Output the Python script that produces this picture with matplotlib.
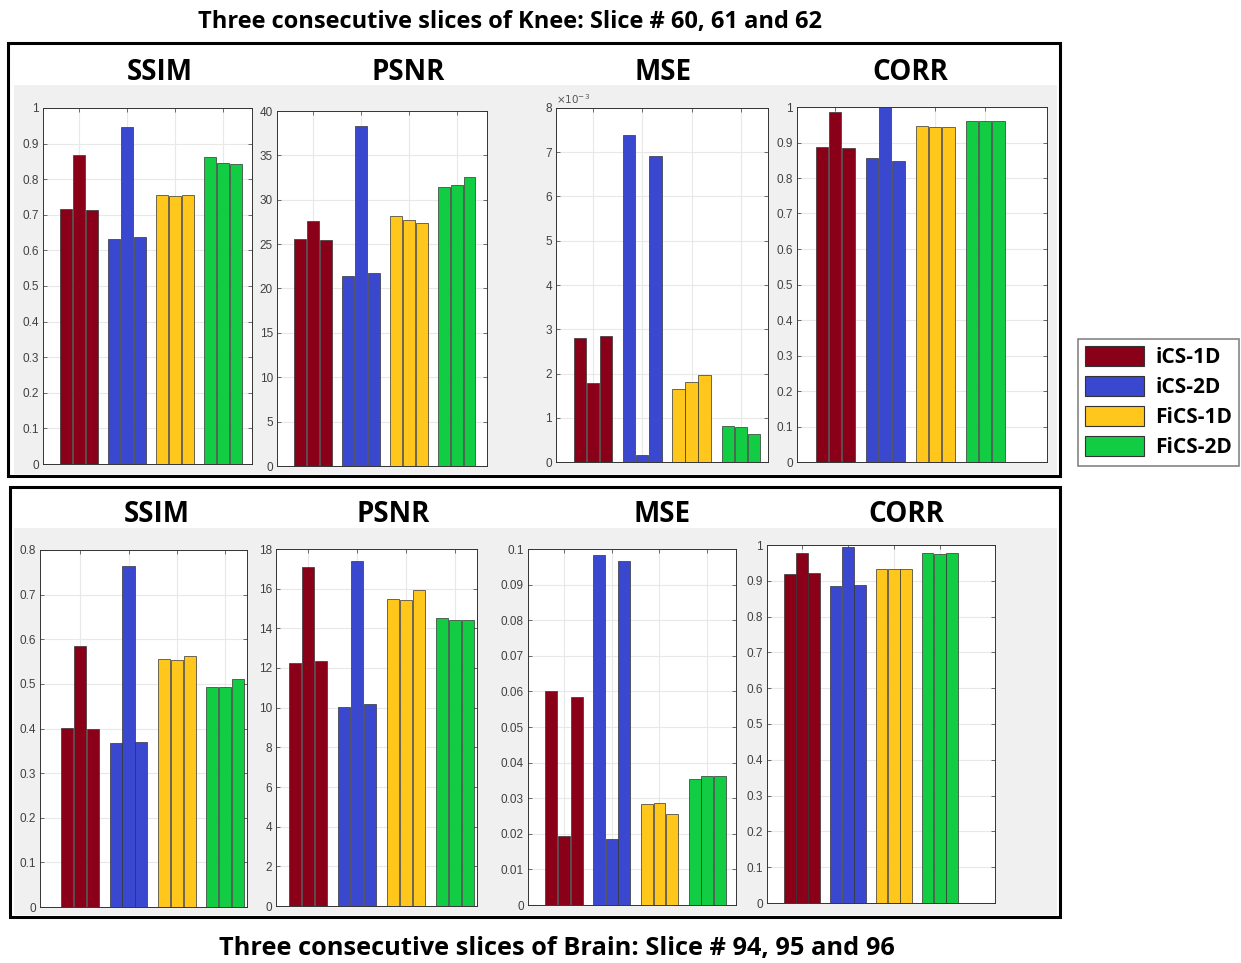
import matplotlib.pyplot as plt
from matplotlib.patches import Rectangle, Patch
from matplotlib.ticker import FuncFormatter
import numpy as np

methods = ["iCS-1D", "iCS-2D", "FiCS-1D", "FiCS-2D"]
colors = ["#8a0018", "#3a47cf", "#ffc61c", "#12cc44"]

# three consecutive slices per method
knee_ssim = [[0.715, 0.868, 0.713], [0.632, 0.948, 0.638], [0.755, 0.752, 0.755], [0.862, 0.845, 0.842]]
knee_psnr = [[25.6, 27.6, 25.5], [21.4, 38.3, 21.8], [28.2, 27.7, 27.4], [31.4, 31.7, 32.6]]
knee_mse = [[2.80e-3, 1.78e-3, 2.85e-3], [7.38e-3, 0.15e-3, 6.92e-3], [1.65e-3, 1.80e-3, 1.97e-3], [0.82e-3, 0.78e-3, 0.63e-3]]
knee_corr = [[0.888, 0.985, 0.885], [0.857, 0.999, 0.848], [0.947, 0.945, 0.945], [0.960, 0.960, 0.960]]

brain_ssim = [[0.402, 0.585, 0.398], [0.368, 0.764, 0.370], [0.555, 0.553, 0.562], [0.492, 0.492, 0.511]]
brain_psnr = [[12.25, 17.1, 12.35], [10.05, 17.4, 10.2], [15.5, 15.45, 15.95], [14.5, 14.4, 14.4]]
brain_mse = [[0.0600, 0.0195, 0.0583], [0.0983, 0.0185, 0.0966], [0.0283, 0.0287, 0.0255], [0.0355, 0.0363, 0.0363]]
brain_corr = [[0.918, 0.977, 0.922], [0.885, 0.995, 0.887], [0.933, 0.933, 0.933], [0.978, 0.975, 0.977]]

W, H = 1241, 963
fig = plt.figure(figsize=(W / 100, H / 100), dpi=100)
fig.patch.set_facecolor("white")


def px_rect(l, t, r, b):
    return [l / W, 1 - b / H, (r - l) / W, (b - t) / H]


# grey panel backgrounds and black frames
for (l, t, r, b) in [(14, 85, 1057, 474), (14, 528, 1057, 915)]:
    fig.patches.append(Rectangle((l / W, 1 - b / H), (r - l) / W, (b - t) / H,
                                 transform=fig.transFigure, facecolor="#f0f0f0", edgecolor="none", zorder=-1))
for (l, t, r, b) in [(8, 43, 1060, 476), (10, 487, 1060, 917)]:
    fig.patches.append(Rectangle((l / W, 1 - b / H), (r - l) / W, (b - t) / H,
                                 transform=fig.transFigure, facecolor="none", edgecolor="black",
                                 linewidth=2.2, zorder=5))

panels = [
    # data, rect(px), xlim, ymax, ystep, title, title x, title y
    (knee_ssim, (43, 108, 252, 464), (0.25, 4.6), 1.0, 0.1, "SSIM", 160, 72),
    (knee_psnr, (277, 111, 487, 466), (0.25, 4.63), 40, 5, "PSNR", 408, 72),
    (knee_mse, (556, 108, 768, 462), (0.25, 4.55), 8e-3, 1e-3, "MSE", 663, 72),
    (knee_corr, (797, 107, 1047, 462), (0.24, 5.24), 1.0, 0.1, "CORR", 910, 72),
    (brain_ssim, (40, 550, 247, 907), (0.17, 4.45), 0.8, 0.1, "SSIM", 157, 514),
    (brain_psnr, (276, 549, 477, 906), (0.35, 4.45), 18, 2, "PSNR", 393, 514),
    (brain_mse, (528, 549, 736, 905), (0.25, 4.6), 0.1, 0.01, "MSE", 662, 514),
    (brain_corr, (767, 545, 995, 903), (0.24, 5.2), 1.0, 0.1, "CORR", 906, 514),
]

groups = np.arange(1, 5)
offsets = [-0.265, 0.0, 0.265]

for i, (data, rect, xl, ymax, ystep, title, tx, ty) in enumerate(panels):
    ax = fig.add_axes(px_rect(*rect))
    ax.set_facecolor("white")
    vals = np.array(data)
    for g in range(4):
        ax.bar(groups[g] + np.array(offsets), vals[g], width=0.25, color=colors[g],
               edgecolor="#333333", linewidth=0.5, zorder=3)
    ax.set_xlim(*xl)
    ax.set_ylim(0, ymax)
    ax.set_xticks(groups)
    ax.set_xticklabels([])
    ax.set_yticks(np.arange(0, ymax + ystep / 2, ystep))
    if i == 2:
        ax.yaxis.set_major_formatter(FuncFormatter(lambda v, p: "%g" % round(v * 1e3, 6)))
        ax.text(0.0, 1.005, r"$\times10^{-3}$", transform=ax.transAxes, fontsize=7.5,
                color="#555555", va="bottom", ha="left")
    else:
        ax.yaxis.set_major_formatter(FuncFormatter(lambda v, p: "%g" % round(v, 6)))
    ax.grid(True, color="#e8e8e8", linewidth=0.8, zorder=0)
    ax.set_axisbelow(True)
    ax.tick_params(direction="in", length=3, width=0.6, colors="#555555",
                   labelsize=8.5, labelcolor="#404040", top=True, right=True, pad=3)
    for s in ax.spines.values():
        s.set_color("#333333")
        s.set_linewidth(0.7)
    for lab in ax.get_yticklabels():
        lab.set_family("Liberation Sans")
    fig.text(tx / W, 1 - ty / H, title, ha="center", va="center", fontsize=20,
             fontweight="bold", family="Open Sans")

fig.text(510 / W, 1 - 22 / H, "Three consecutive slices of Knee: Slice # 60, 61 and 62",
         ha="center", va="center", fontsize=17, fontweight="bold", family="Open Sans")
fig.text(557 / W, 1 - 948 / H, "Three consecutive slices of Brain: Slice # 94, 95 and 96",
         ha="center", va="center", fontsize=18.3, fontweight="bold", family="Open Sans")

handles = [Patch(facecolor=c, edgecolor="#333333", linewidth=0.8) for c in colors]
leg = fig.legend(handles, methods, loc="upper left", bbox_to_anchor=(1078 / W, 1 - 339 / H),
                 prop={"family": "Open Sans", "weight": "bold", "size": 15},
                 handlelength=2.8, handleheight=1.1, labelspacing=0.38, handletextpad=0.55,
                 borderpad=0.35, borderaxespad=0, frameon=True, fancybox=False, edgecolor="#666666")
leg.get_frame().set_linewidth(1.2)

fig.savefig("out.png", dpi=100)
